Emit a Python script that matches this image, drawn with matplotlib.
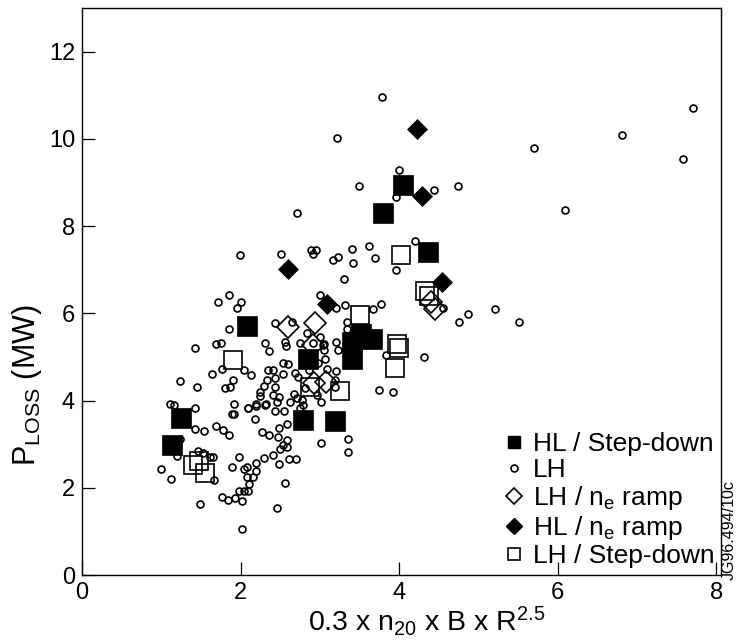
import matplotlib
matplotlib.use("Agg")
import matplotlib.pyplot as plt
from matplotlib.lines import Line2D

plt.rcParams['font.family'] = ['Liberation Sans', 'DejaVu Sans']
plt.rcParams['mathtext.default'] = 'regular'

# ---- data ----
hl_sd_x = [1.13, 1.25, 2.08, 2.79, 2.85, 3.19, 3.40, 3.40, 3.52, 3.66, 3.80, 4.05, 4.37]
hl_sd_y = [2.99, 3.59, 5.71, 3.55, 4.95, 3.54, 4.96, 5.35, 5.52, 5.40, 8.29, 8.95, 7.41]

hl_ramp_x = [4.22, 4.29, 2.60, 4.54, 3.09]
hl_ramp_y = [10.22, 8.69, 7.01, 6.72, 6.22]

lh_ramp_x = [2.60, 2.94, 2.92, 2.93, 3.08, 4.40, 4.45]
lh_ramp_y = [5.69, 5.77, 5.27, 4.40, 4.42, 6.25, 6.10]

lh_sd_x = [1.91, 1.40, 1.47, 1.55, 3.51, 3.97, 4.00, 3.95, 3.26, 4.03, 4.33, 4.38, 2.88]
lh_sd_y = [4.93, 2.52, 2.62, 2.33, 5.96, 5.30, 5.20, 4.75, 4.22, 7.33, 6.50, 6.40, 4.31]

lh_x = [3.78, 3.22, 4.00, 3.49, 4.44, 4.74, 3.96, 2.71,
        1.99, 2.51, 2.89, 2.95, 2.91, 3.41, 3.62, 3.17, 3.23, 3.42, 3.69, 4.20, 3.96, 3.31,
        7.71, 6.81, 7.58, 5.70, 6.09, 5.21, 5.51,
        4.55, 4.76, 4.87, 4.31,
        1.85, 1.72, 2.01, 1.95, 3.00, 3.20, 3.32, 3.67, 3.77,
        3.75, 3.92, 3.84,
        1.86, 1.42, 1.69, 1.75,
        1.23, 1.45, 1.64, 1.76, 1.91, 1.81, 1.87, 2.04, 2.13,
        1.11, 1.16, 1.43, 1.43, 1.54, 1.69, 1.78, 1.86, 1.92, 1.89, 1.92, 2.09, 2.18, 2.27, 2.36,
        1.00, 1.12, 1.24, 1.20, 1.46, 1.53, 1.62, 1.65, 1.66, 1.49,
        1.98, 1.89, 2.04, 2.08, 2.20, 2.20, 2.16, 2.08, 2.11, 1.98, 2.04, 2.09, 2.02, 1.76, 1.84, 1.93, 2.02, 2.46, 2.56, 2.49,
        2.29, 2.41, 2.50, 2.54, 2.58, 2.58, 2.61, 2.70, 2.49, 2.58, 2.47,
        2.43, 2.55, 2.32, 2.20, 2.25, 2.41, 2.48, 2.46,
        2.25, 2.29, 2.33, 2.44, 2.44,
        2.35, 2.41, 2.53, 2.54, 2.60,
        2.31, 2.36, 2.44, 2.56, 2.57, 2.75,
        2.69, 2.73, 2.67, 2.71, 2.75, 2.79,
        2.84, 2.92, 3.00, 3.04, 3.07,
        2.98, 3.09, 3.21, 3.19, 3.02, 2.97,
        3.21, 3.23, 3.34, 3.02, 3.36, 3.36,
        2.10, 2.20, 2.31,
        2.65, 3.05, 3.05, 3.34,
        3.19, 2.81, 2.77, 2.62, 2.86]
lh_y = [10.97, 10.03, 9.29, 8.91, 8.83, 8.93, 8.66, 8.29,
        7.33, 7.35, 7.46, 7.46, 7.37, 7.48, 7.54, 7.22, 7.29, 7.15, 7.26, 7.65, 7.00, 6.78,
        10.71, 10.09, 9.54, 9.78, 8.38, 6.11, 5.80,
        6.12, 5.80, 5.99, 5.00,
        6.41, 6.26, 6.26, 6.12, 6.41, 6.12, 6.19, 6.11, 6.22,
        4.24, 4.20, 5.04,
        5.64, 5.21, 5.29, 5.33,
        4.44, 4.31, 4.60, 4.73, 4.46, 4.28, 4.30, 4.70, 4.58,
        3.93, 3.89, 3.82, 3.35, 3.31, 3.41, 3.32, 3.20, 3.93, 3.70, 3.70, 3.84, 3.57, 3.28, 3.20,
        2.42, 2.21, 3.11, 2.73, 2.85, 2.79, 2.71, 2.71, 2.18, 1.62,
        2.71, 2.47, 2.42, 2.47, 2.56, 2.39, 2.25, 2.24, 2.08, 1.93, 1.93, 1.93, 1.70, 1.78, 1.72, 1.76, 1.05, 1.53, 2.11, 2.54,
        2.69, 2.75, 2.90, 2.98, 3.09, 2.94, 2.67, 2.65, 3.38, 3.47, 3.17,
        3.76, 3.76, 3.91, 3.93, 4.11, 4.12, 4.08, 3.97,
        4.20, 4.33, 4.47, 4.31, 4.51,
        4.70, 4.71, 4.60, 4.86, 4.83,
        5.31, 5.14, 5.77, 5.35, 5.25, 5.32,
        4.63, 4.53, 4.16, 4.05, 3.82, 3.89,
        5.54, 5.31, 5.46, 5.27, 4.96,
        4.85, 4.73, 4.68, 4.48, 3.97, 4.12,
        5.35, 5.15, 5.65, 3.02, 3.11, 2.83,
        3.82, 3.88, 3.90,
        5.80, 5.29, 5.15, 5.80,
        4.30, 4.28, 4.01, 3.97, 4.70]

x_ticks = [0, 2, 4, 6, 8]
y_ticks = [0, 2, 4, 6, 8, 10, 12]
labels = ['HL / Step-down', 'LH', 'LH / n$_{e}$ ramp', 'HL / n$_{e}$ ramp', 'LH / Step-down']

# ---- figure ----
fig = plt.figure(figsize=(7.36, 6.4), dpi=100)
ax = fig.add_axes([82/736, 65/640, 639/736, 567/640])

ax.plot(lh_x, lh_y, linestyle='none', marker='o', ms=5.0, mfc='none', mec='black', mew=1.2, zorder=2)
ax.plot(lh_sd_x, lh_sd_y, linestyle='none', marker='s', ms=13.5, mfc='none', mec='black', mew=1.2, zorder=3)
ax.plot(lh_ramp_x, lh_ramp_y, linestyle='none', marker='D', ms=11.5, mfc='none', mec='black', mew=1.2, zorder=3)
ax.plot(hl_sd_x, hl_sd_y, linestyle='none', marker='s', ms=14, mfc='black', mec='black', mew=0.5, zorder=4)
ax.plot(hl_ramp_x, hl_ramp_y, linestyle='none', marker='D', ms=10, mfc='black', mec='black', mew=0.5, zorder=4)

ax.set_xlim(0, 8.06)
ax.set_ylim(0, 13)
ax.set_xticks(x_ticks)
ax.set_yticks(y_ticks)
ax.tick_params(direction='in', length=9.5, width=0.9, labelsize=17, top=False, right=False, pad=5)
for s in ax.spines.values():
    s.set_linewidth(1.0)

ax.set_xlabel('0.3 x n$_{20}$ x B x R$^{2.5}$', fontsize=20.5)
ax.xaxis.set_label_coords(0.54, -0.052)
ax.set_ylabel('P$_{LOSS}$ (MW)', fontsize=22)
ax.yaxis.set_label_coords(-0.060, 0.335)

handles = [
    Line2D([], [], linestyle='none', marker='s', ms=9, mfc='black', mec='black'),
    Line2D([], [], linestyle='none', marker='o', ms=5.0, mfc='none', mec='black', mew=1.2),
    Line2D([], [], linestyle='none', marker='D', ms=8.5, mfc='none', mec='black', mew=1.2),
    Line2D([], [], linestyle='none', marker='D', ms=8.5, mfc='black', mec='black'),
    Line2D([], [], linestyle='none', marker='s', ms=9, mfc='none', mec='black', mew=1.2),
]
ax.legend(handles, labels, loc='lower right', bbox_to_anchor=(1.0, 0.0), frameon=False,
          fontsize=19, handlelength=0.8, handletextpad=0.3, labelspacing=0.08,
          borderaxespad=0.15, borderpad=0.1)

fig.text(729/736, 1 - 530/640, 'JG96.494/10c', rotation=90, ha='center', va='center', fontsize=11.5)

fig.savefig('out.png', dpi=100)
